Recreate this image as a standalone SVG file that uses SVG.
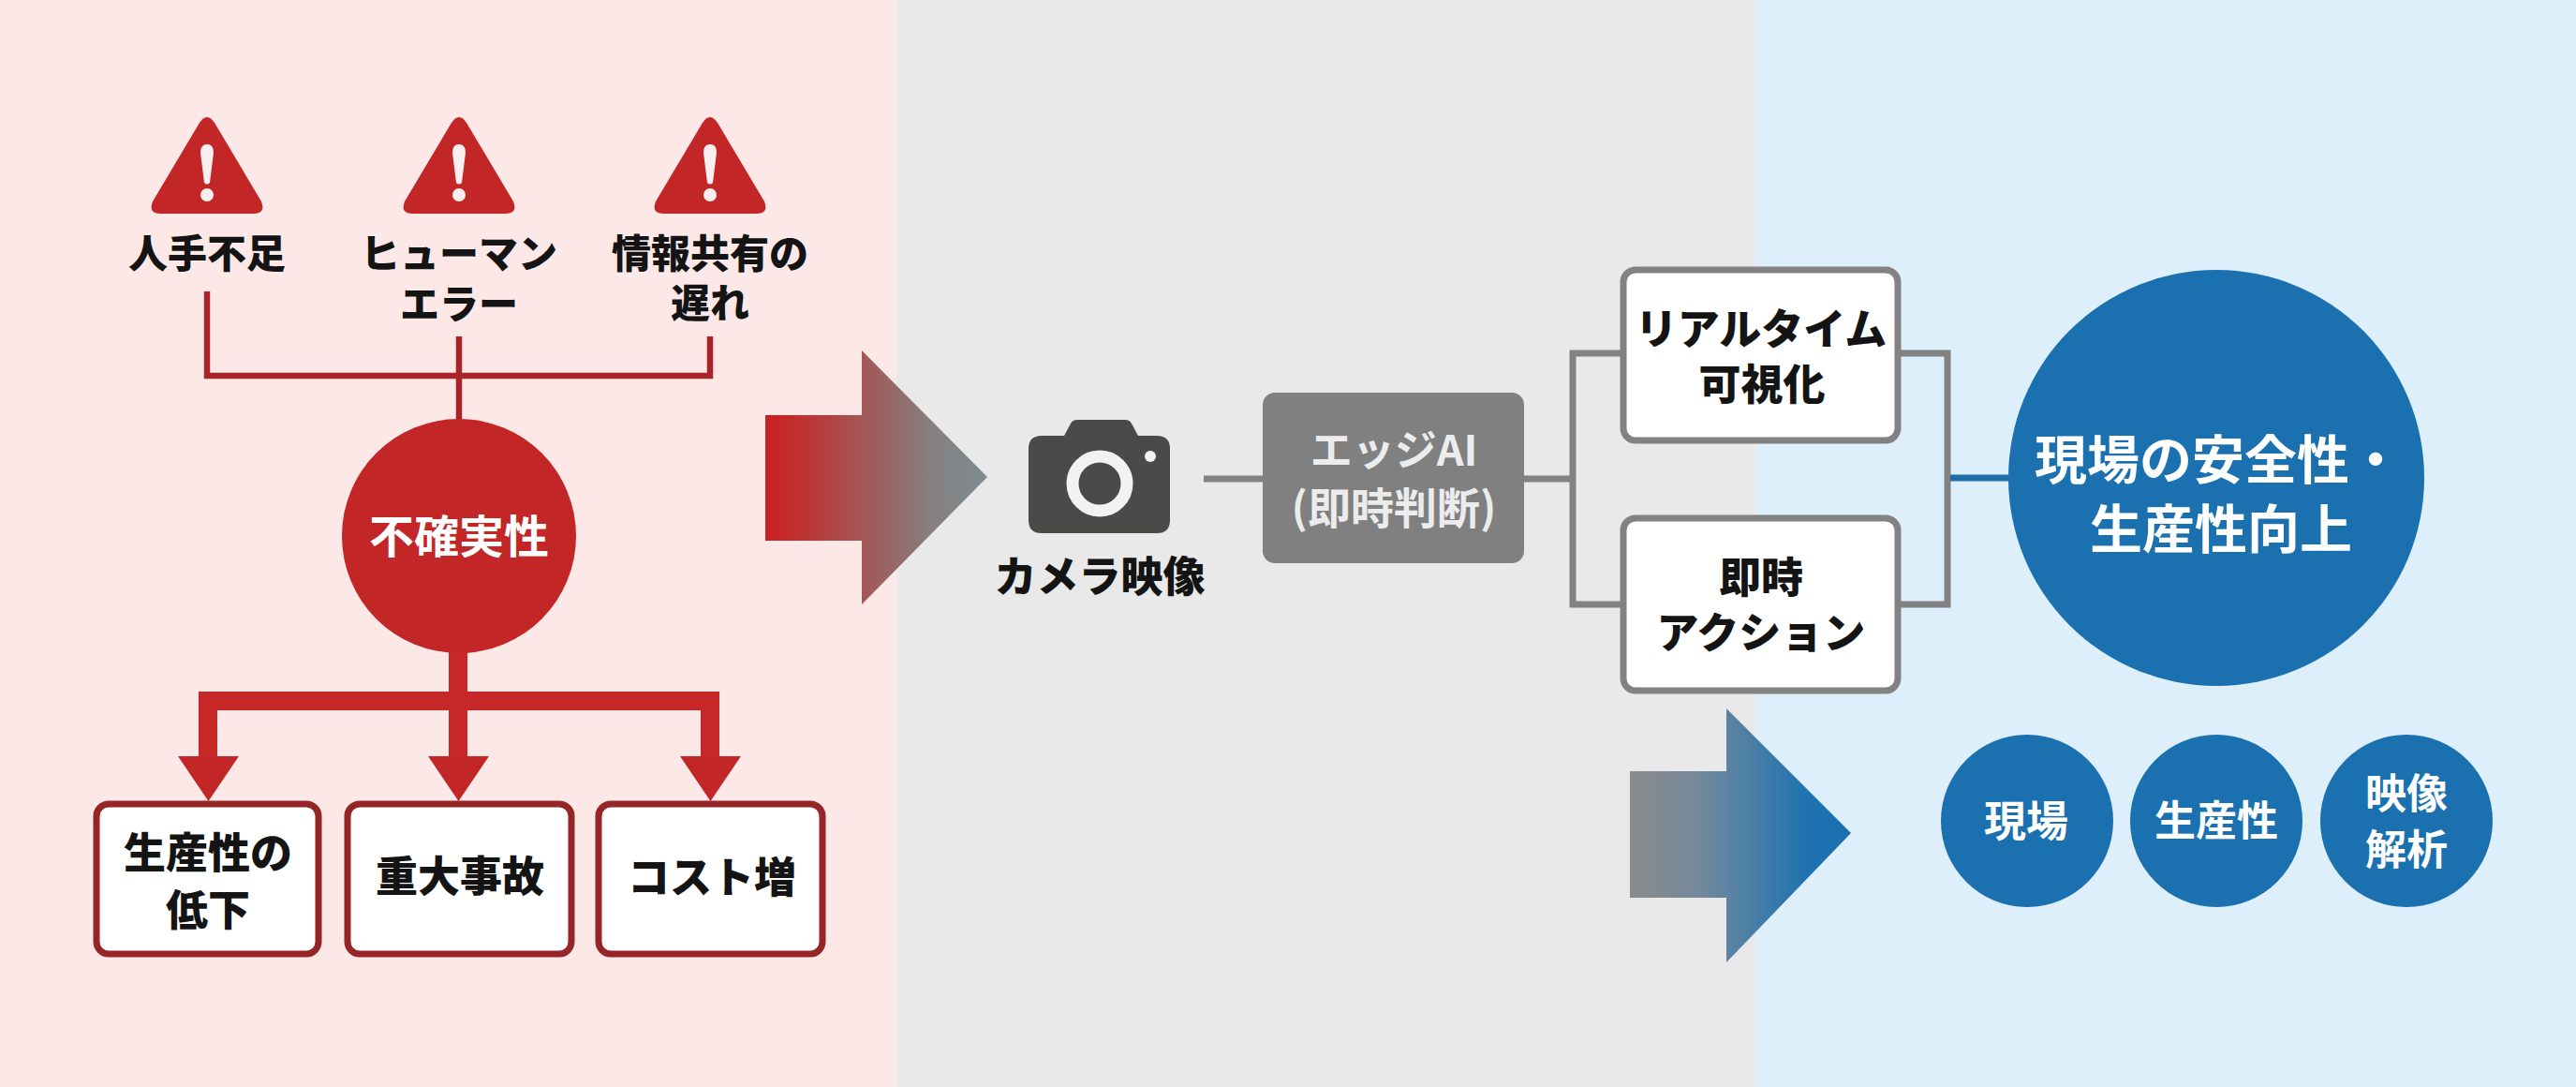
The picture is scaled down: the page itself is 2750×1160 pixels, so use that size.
<svg xmlns="http://www.w3.org/2000/svg" width="2750" height="1160" viewBox="0 0 2750 1160">
<style>
text{font-family:"Noto Sans CJK JP","Noto Sans",sans-serif;font-weight:700;text-anchor:middle}
.k{fill:#141414;font-weight:900}.w{fill:#fff}.g{fill:#ececec}
.s42{font-size:42px}.s45{font-size:45px}.s44{font-size:44px}.s46{font-size:46px}.s48{font-size:48px}.s56{font-size:56px}
.rb{fill:#fff;stroke:#952526;stroke-width:7}
.gb{fill:#fff;stroke:#828282;stroke-width:7}
.red{fill:#c22626}.blue{fill:#1b70b0}
.l1{fill:none;stroke:#a82428;stroke-width:6.500}
.l2{fill:none;stroke:#c62828;stroke-width:20}
.l3{fill:none;stroke:#828282;stroke-width:7}
</style>
<defs>
<linearGradient id="ga" gradientUnits="userSpaceOnUse" x1="817" y1="0" x2="1054" y2="0"><stop offset="0" stop-color="#c91f1f"/><stop offset=".1" stop-color="#c42a2a"/><stop offset=".75" stop-color="#85807f"/><stop offset="1" stop-color="#7e8c92"/></linearGradient>
<linearGradient id="gb" gradientUnits="userSpaceOnUse" x1="1740" y1="0" x2="1976" y2="0"><stop offset="0" stop-color="#8a8a8a"/><stop offset=".3" stop-color="#768a9c"/><stop offset=".8" stop-color="#1f72b0"/><stop offset="1" stop-color="#1b70b0"/></linearGradient>
<g id="warn"><path d="M-8 4Q0 -8 8 4L58 88Q63 101 50 101H-50Q-63 101-58 88Z" class="red"/><path d="M-7 36Q-7 27 0 27Q7 27 7 36L3 68Q0 71-3 68Z" fill="#fbeeee"/><circle cy="81" r="7" fill="#fbeeee"/></g>
</defs>
<g id="background"><rect width="957" height="1160" fill="#fde8e8"/><rect x="957" width="917" height="1160" fill="#e9e9e9"/><rect x="1874" width="876" height="1160" fill="#ddeffb"/></g>
<g id="connectors">
<path class="l1" d="M221 311V401H758V359M490 359V450"/>
<path class="l2" d="M489 690V807M222 807V748H758V807"/>
<path class="red" d="M190 807H255L222.500 855ZM457 807H522L489.500 855ZM726 807H791L758.500 855Z"/>
<path class="l3" d="M1285 511H1350M1625 511H1679M1733 377H1679V645H1733M2026 377H2079V645H2026"/>
<path fill="none" stroke="#1f6ea6" stroke-width="7" d="M2082 510H2146"/>
</g>
<g id="warn1"><use href="#warn" x="221" y="127"/><text class="k s42" x="221" y="286">人手不足</text></g>
<g id="warn2"><use href="#warn" x="490" y="127"/><text class="k s42" x="490" y="286">ヒューマン</text><text class="k s42" x="490" y="340">エラー</text></g>
<g id="warn3"><use href="#warn" x="758" y="127"/><text class="k s42" x="758" y="286">情報共有の</text><text class="k s42" x="758" y="339">遅れ</text></g>
<g id="uncertainty"><circle class="red" cx="490" cy="572" r="125"/><text class="w s48" x="490" y="590">不確実性</text></g>
<g id="effect1"><rect class="rb" x="103" y="858" width="237" height="160" rx="13"/><text class="k s45" x="222" y="927">生産性の</text><text class="k s45" x="222" y="988">低下</text></g>
<g id="effect2"><rect class="rb" x="371" y="858" width="239" height="160" rx="13"/><text class="k s45" x="491" y="952">重大事故</text></g>
<g id="effect3"><rect class="rb" x="639" y="858" width="239" height="160" rx="13"/><text class="k s45" x="760" y="953">コスト増</text></g>
<g id="arrow1"><path fill="url(#ga)" d="M817 443H920V374L1054 509L920 645V577H817Z"/></g>
<g id="camera"><path fill="#4a4a48" d="M1112 465H1136L1143 452Q1145 448 1150 448H1201Q1206 448 1208 452L1215 465H1235Q1249 465 1249 479V555Q1249 569 1235 569H1112Q1098 569 1098 555V479Q1098 465 1112 465Z"/><circle cx="1174" cy="516" r="29" fill="none" stroke="#f2f2f2" stroke-width="13"/><circle cx="1228" cy="487" r="6" fill="#f2f2f2"/><text class="k s45" x="1174" y="632">カメラ映像</text></g>
<g id="edge"><rect x="1348" y="419" width="279" height="182" rx="13" fill="#808080"/><text class="g s45" x="1488" y="497">エッジAI</text><text class="g s46" x="1488" y="559">(即時判断)</text></g>
<g id="visual"><rect class="gb" x="1733" y="288" width="293" height="182" rx="13"/><text class="k s45" x="1880" y="368">リアルタイム</text><text class="k s45" x="1881" y="427">可視化</text></g>
<g id="action"><rect class="gb" x="1733" y="553" width="293" height="184" rx="13"/><text class="k s45" x="1880" y="633">即時</text><text class="k s45" x="1880" y="692">アクション</text></g>
<g id="goal"><circle class="blue" cx="2366" cy="510" r="222"/><text class="w s56" x="2368" y="511">現場の安全性・</text><text class="w s56" x="2371" y="585">生産性向上</text></g>
<g id="arrow2"><path fill="url(#gb)" d="M1740 823H1843V756L1976 889L1843 1027V958H1740Z"/></g>
<g id="tag1"><circle class="blue" cx="2164" cy="876" r="92"/><text class="w s45" x="2163" y="893">現場</text></g>
<g id="tag2"><circle class="blue" cx="2366" cy="876" r="92"/><text class="w s44" x="2366" y="892">生産性</text></g>
<g id="tag3"><circle class="blue" cx="2569" cy="876" r="92"/><text class="w s44" x="2569" y="863">映像</text><text class="w s44" x="2569" y="923">解析</text></g>
</svg>
